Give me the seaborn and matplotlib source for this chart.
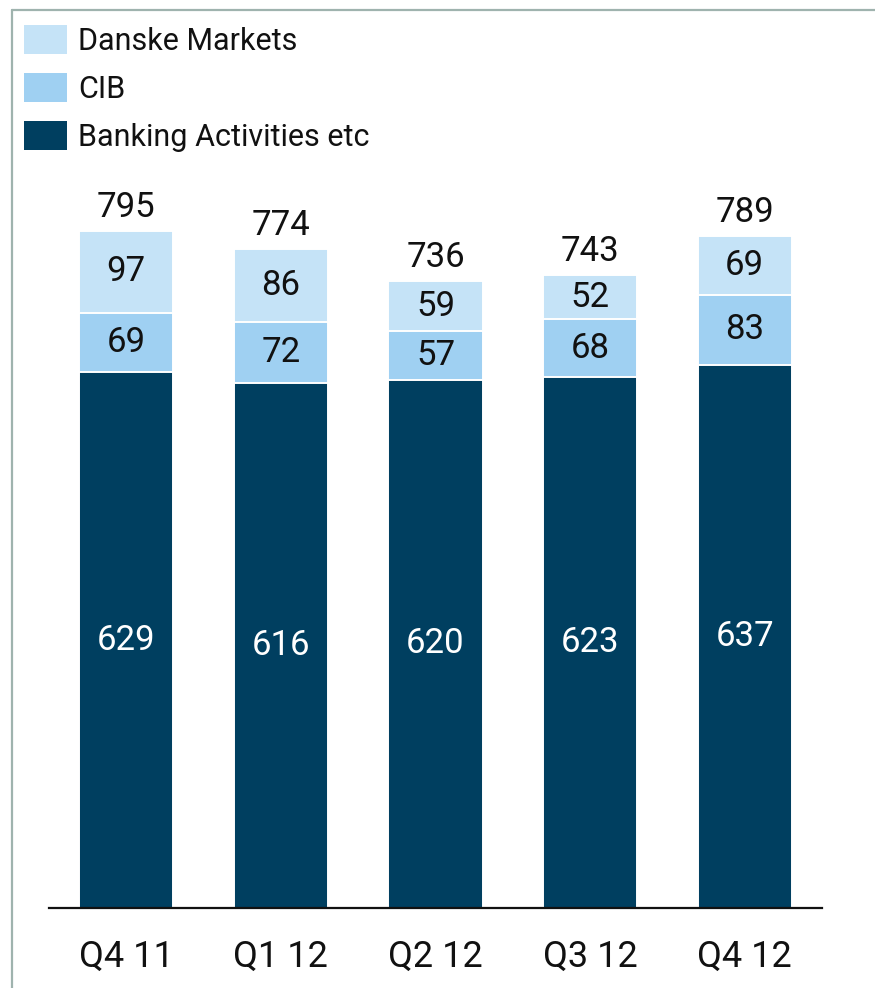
import matplotlib
matplotlib.use("Agg")
import matplotlib.pyplot as plt
from matplotlib.lines import Line2D
from matplotlib.patches import Patch
import seaborn as sns
import pandas as pd

quarters = ["Q4 11", "Q1 12", "Q2 12", "Q3 12", "Q4 12"]
banking = [629, 616, 620, 623, 637]
cib = [69, 72, 57, 68, 83]
markets = [97, 86, 59, 52, 69]

c_markets = "#c5e3f7"
c_cib = "#9fd0f2"
c_banking = "#003f60"

sns.set_theme(style="white")
plt.rcParams["font.family"] = ["Roboto", "DejaVu Sans"]

df = pd.DataFrame({"quarter": quarters, "banking": banking, "cib": cib, "markets": markets})
df["lvl2"] = df["banking"] + df["cib"]
df["total"] = df["lvl2"] + df["markets"]

fig = plt.figure(figsize=(8.75, 9.88), dpi=100)
W, H = 875, 988
ax = fig.add_axes([49 / W, (H - 908) / H, (822 - 49) / W, (908 - 170) / H])

bw = 0.61
sns.barplot(data=df, x="quarter", y="total", color=c_markets, width=bw,
            saturation=1, edgecolor="white", linewidth=1.4, ax=ax)
sns.barplot(data=df, x="quarter", y="lvl2", color=c_cib, width=bw,
            saturation=1, edgecolor="white", linewidth=1.4, ax=ax)
sns.barplot(data=df, x="quarter", y="banking", color=c_banking, width=bw,
            saturation=1, edgecolor="white", linewidth=1.4, ax=ax)

ax.set_xlim(-0.5, 4.5)
ax.set_ylim(0, (908 - 170) / 0.852)

fs = 25
for i, row in df.iterrows():
    ax.text(i, row["banking"] / 2, f"{row['banking']}", ha="center", va="center",
            color="white", fontsize=fs)
    ax.text(i, row["banking"] + row["cib"] / 2, f"{row['cib']}", ha="center",
            va="center", color="#111111", fontsize=fs)
    ax.text(i, row["lvl2"] + row["markets"] / 2, f"{row['markets']}", ha="center",
            va="center", color="#111111", fontsize=fs)
    ax.annotate(f"{row['total']}", (i, row["total"]), xytext=(0, 5),
                textcoords="offset points", ha="center", va="bottom",
                color="#111111", fontsize=fs)

ax.set_xlabel("")
ax.set_ylabel("")
ax.set_yticks([])
for s in ["top", "right", "left"]:
    ax.spines[s].set_visible(False)
ax.spines["bottom"].set_color("#111111")
ax.spines["bottom"].set_linewidth(1.6)
ax.tick_params(axis="x", length=0, pad=22, labelsize=26, colors="#111111")

handles = [Patch(facecolor=c_markets, edgecolor="none"),
           Patch(facecolor=c_cib, edgecolor="none"),
           Patch(facecolor=c_banking, edgecolor="none")]
labels = ["Danske Markets", "CIB", "Banking Activities etc"]
fig.legend(handles, labels, loc="upper left", bbox_to_anchor=(24 / W, 1 - 25 / H),
           frameon=False, fontsize=22, handlelength=1.4, handleheight=1.1,
           handletextpad=0.38, labelspacing=0.55, borderpad=0, borderaxespad=0,
           labelcolor="#111111")

# frame lines on top and left
border = "#9fb3ae"
fig.add_artist(Line2D([12 / W, 1], [1 - 10 / H, 1 - 10 / H], color=border, lw=1.6,
                      transform=fig.transFigure))
fig.add_artist(Line2D([12 / W, 12 / W], [0, 1 - 10 / H], color=border, lw=1.6,
                      transform=fig.transFigure))

fig.savefig("out.png", dpi=100)
